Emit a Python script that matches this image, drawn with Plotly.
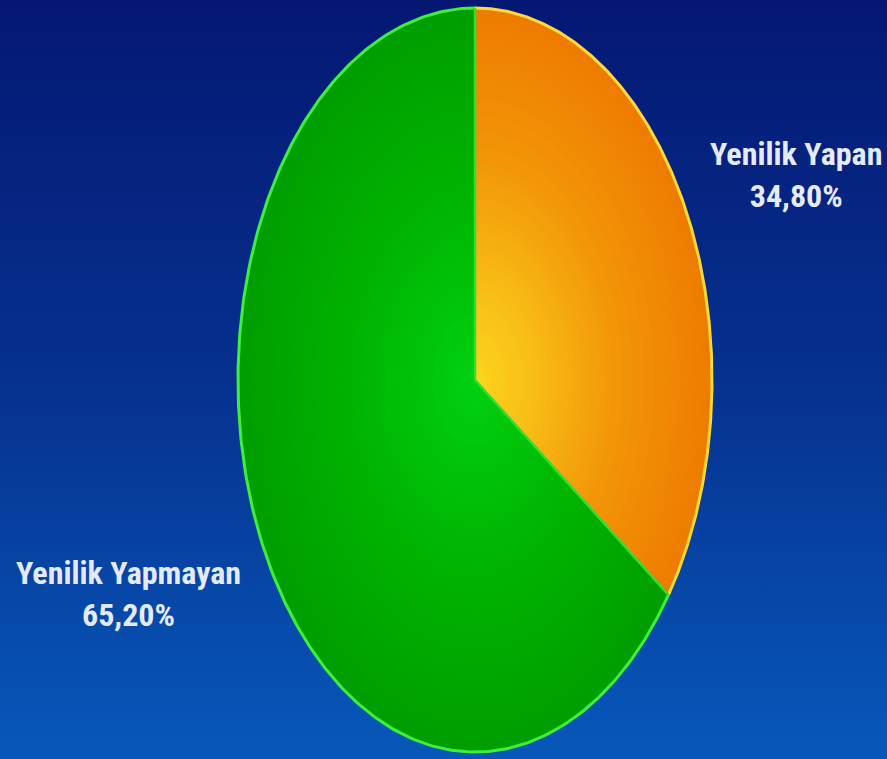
import numpy as np
import plotly.graph_objects as go

# data
labels = ["Yenilik Yapan", "Yenilik Yapmayan"]
values = [34.8, 65.2]
value_text = ["34,80%", "65,20%"]

# colours: (radius, rgb) stops for a radial look, edge -> centre
slice_stops = [
    [(1.0, (238, 124, 0)), (0.6, (242, 150, 8)), (0.25, (248, 190, 22)), (0.0, (252, 214, 30))],
    [(1.0, (0, 158, 0)), (0.55, (0, 178, 0)), (0.0, (0, 210, 16))],
]
rim_colors = ["#ffd83a", "#3cf03c"]
divider_color = "#30e030"

W, H = 887, 759
cx, cy = 475, 380      # pie centre in pixels
rx, ry = 237, 372      # pie radii in pixels

# axis ranges chosen so a unit circle becomes the ellipse
x_range = [-cx / rx, (W - cx) / rx]
y_range = [-(H - cy) / ry, cy / ry]


def wedge(f0, f1, r, n=200):
    t = np.linspace(f0, f1, n) * 2 * np.pi
    x = np.concatenate([[0], r * np.sin(t), [0]])
    y = np.concatenate([[0], r * np.cos(t), [0]])
    return x, y


def color_at(stops, r):
    rs = [s[0] for s in stops][::-1]
    cs = [s[1] for s in stops][::-1]
    rgb = [np.interp(r, rs, [c[i] for c in cs]) for i in range(3)]
    return "rgb(%d,%d,%d)" % tuple(int(round(v)) for v in rgb)


fig = go.Figure()

# background
fig.add_trace(go.Scatter(
    x=[x_range[0], x_range[1], x_range[1], x_range[0], x_range[0]],
    y=[y_range[0], y_range[0], y_range[1], y_range[1], y_range[0]],
    mode="lines", line=dict(width=0), fill="toself",
    fillgradient=dict(type="vertical",
                      colorscale=[[0, "#0758ba"], [0.5, "#06318f"], [1, "#041873"]]),
    hoverinfo="skip", showlegend=False,
))

fracs = np.cumsum([0] + values) / sum(values)

# slices, drawn as stacked wedges for a radial shading
n_layers = 45
for i in range(len(values)):
    for k in range(n_layers):
        r = 1 - k / n_layers
        x, y = wedge(fracs[i], fracs[i + 1], r)
        fig.add_trace(go.Scatter(
            x=x, y=y, mode="lines", line=dict(width=0), fill="toself",
            fillcolor=color_at(slice_stops[i], r),
            hoverinfo="skip", showlegend=False,
        ))

# rims
for i in range(len(values)):
    t = np.linspace(fracs[i], fracs[i + 1], 300) * 2 * np.pi
    fig.add_trace(go.Scatter(
        x=np.sin(t), y=np.cos(t), mode="lines",
        line=dict(color=rim_colors[i], width=3),
        hoverinfo="skip", showlegend=False,
    ))

# dividers
for f in fracs[:-1]:
    a = f * 2 * np.pi
    fig.add_trace(go.Scatter(
        x=[0, np.sin(a)], y=[0, np.cos(a)], mode="lines",
        line=dict(color=divider_color, width=2.5),
        hoverinfo="skip", showlegend=False,
    ))

# labels
label_pos = [(796 / W, 1 - 175 / H), (128 / W, 1 - 594 / H)]
for i in range(len(values)):
    fig.add_annotation(
        x=label_pos[i][0], y=label_pos[i][1], xref="paper", yref="paper",
        xanchor="center", yanchor="middle",
        text="<b>%s<br>%s</b>" % (labels[i], value_text[i]),
        showarrow=False, align="center",
        font=dict(family="Roboto Condensed, Roboto, sans-serif",
                  size=32, color="#e4ebff"),
    )

fig.update_xaxes(range=x_range, visible=False, fixedrange=True)
fig.update_yaxes(range=y_range, visible=False, fixedrange=True)
fig.update_layout(
    width=W, height=H,
    margin=dict(l=0, r=0, t=0, b=0),
    paper_bgcolor="#06318f", plot_bgcolor="#06318f",
    showlegend=False,
)

fig.write_html("out.html", config={"displayModeBar": False},
               post_script="document.body.style.margin='0';document.body.style.overflow='hidden';")
